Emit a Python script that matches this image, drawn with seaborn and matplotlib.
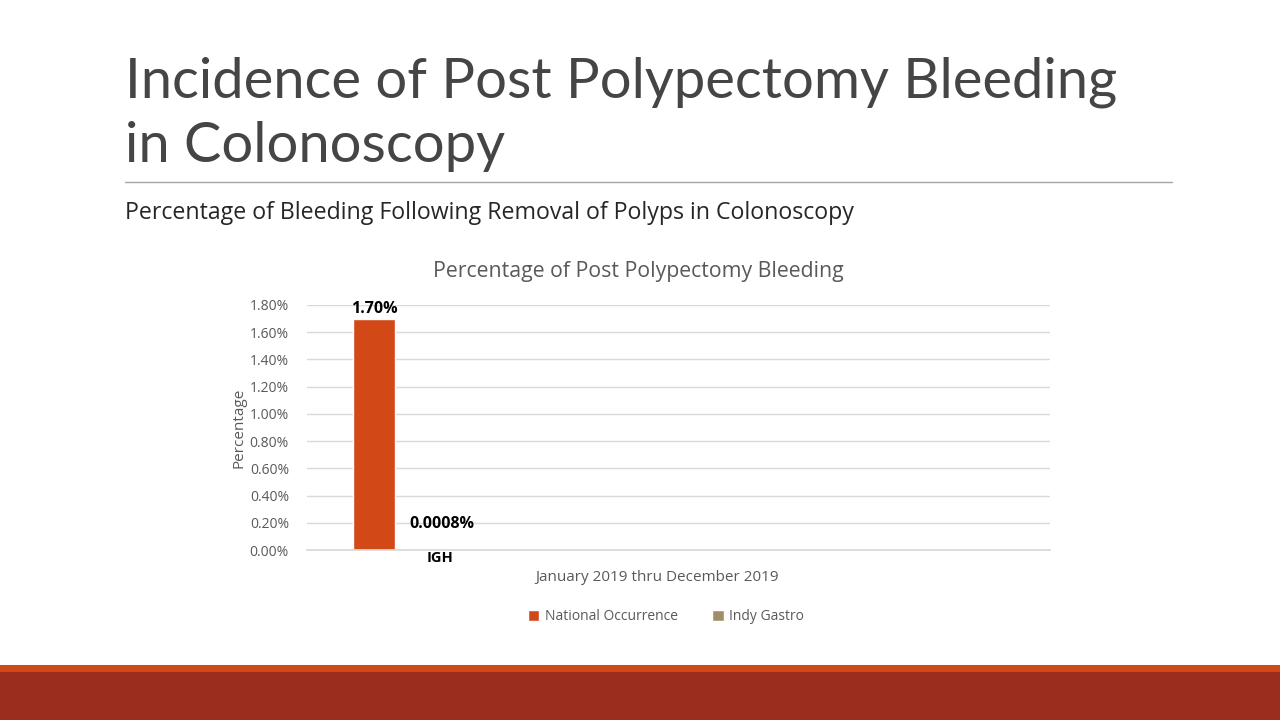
import pandas as pd
import numpy as np
import seaborn as sns
import matplotlib.pyplot as plt
from matplotlib.patches import Rectangle
from matplotlib.ticker import PercentFormatter

# data
categories = ['IGH', 'IGH']
series = ['National Occurrence', 'Indy Gastro']
values = [0.017, 0.000008]
label_text = ['1.70%', '0.0008%']
yticks = [0, 0.002, 0.004, 0.006, 0.008, 0.010, 0.012, 0.014, 0.016, 0.018]

colors = ['#D34817', '#A28E6A']

df = pd.DataFrame({'site': categories, 'series': series, 'value': values})

sns.set_theme(style='white')
plt.rcParams['font.family'] = ['Open Sans', 'DejaVu Sans']

fig = plt.figure(figsize=(12.8, 7.2), dpi=100)

# slide heading
fig.text(125/1280, 1-97/720, 'Incidence of Post Polypectomy Bleeding', fontsize=40.4,
         color='#454545', family=['Lato', 'DejaVu Sans'], weight='normal', va='baseline')
fig.text(125/1280, 1-162/720, 'in Colonoscopy', fontsize=40.4,
         color='#454545', family=['Lato', 'DejaVu Sans'], weight='normal', va='baseline')
fig.add_artist(plt.Line2D([125/1280, 1172/1280], [1-182/720, 1-182/720],
                          color='#A6A6A6', lw=1, transform=fig.transFigure))
fig.text(125/1280, 1-219/720, 'Percentage of Bleeding Following Removal of Polyps in Colonoscopy',
         fontsize=16.7, color='#262626', va='baseline')

# bottom bands
fig.add_artist(Rectangle((0, 0), 1, 48/720, transform=fig.transFigure,
                         color='#9B2D1F', lw=0))
fig.add_artist(Rectangle((0, 48/720), 1, 7/720, transform=fig.transFigure,
                         color='#D34817', lw=0))

ax = fig.add_axes([307/1280, 1-550/720, 743/1280, 245/720])
sns.barplot(data=df, x='site', y='value', hue='series', palette=colors, saturation=1,
            width=0.8, gap=0.21, ax=ax, legend=True)

ax.set_xlim(-0.706, 4.90)
ax.set_ylim(0, 0.018)
ax.set_yticks(yticks)
ax.yaxis.set_major_formatter(PercentFormatter(1.0, decimals=2))
ax.grid(axis='y', color='#D9D9D9', lw=1)
ax.set_axisbelow(True)
for s in ['top', 'right', 'left']:
    ax.spines[s].set_visible(False)
ax.spines['bottom'].set_color('#D9D9D9')
ax.tick_params(axis='y', length=0, labelsize=10, labelcolor='#595959', pad=13)
ax.tick_params(axis='x', length=0, labelsize=10.5, pad=1)
ax.set_xticks([0.3], labels=['IGH'], fontweight='bold', color='#000000')

pads = [1, 13]
shifts = [0, 11]
for cont, txt, p, dx in zip(ax.containers, label_text, pads, shifts):
    anns = ax.bar_label(cont, labels=[txt], padding=p, fontsize=11.5, fontweight='bold', color='#000000')
    for a in anns:
        a.xyann = (a.xyann[0] + dx, a.xyann[1])

ax.set_ylabel('Percentage', fontsize=11, color='#595959', labelpad=2)
ax.set_xlabel('January 2019 thru December 2019', fontsize=11, color='#595959')
ax.xaxis.set_label_coords((657-307)/743, -(570-550)/245, transform=ax.transAxes)
ax.xaxis.label.set_va('top')

ax.set_title('Percentage of Post Polypectomy Bleeding', fontsize=15.3, color='#595959', pad=20)
ax.title.set_position(((638-307)/743, 1))

ax.legend(loc='upper center', bbox_to_anchor=((666-307)/743, -0.19), ncol=2, frameon=False,
          fontsize=10, handlelength=0.8, handleheight=0.8, columnspacing=2.5, handletextpad=0.4,
          labelcolor='#595959')

fig.savefig('out.png', dpi=100)
